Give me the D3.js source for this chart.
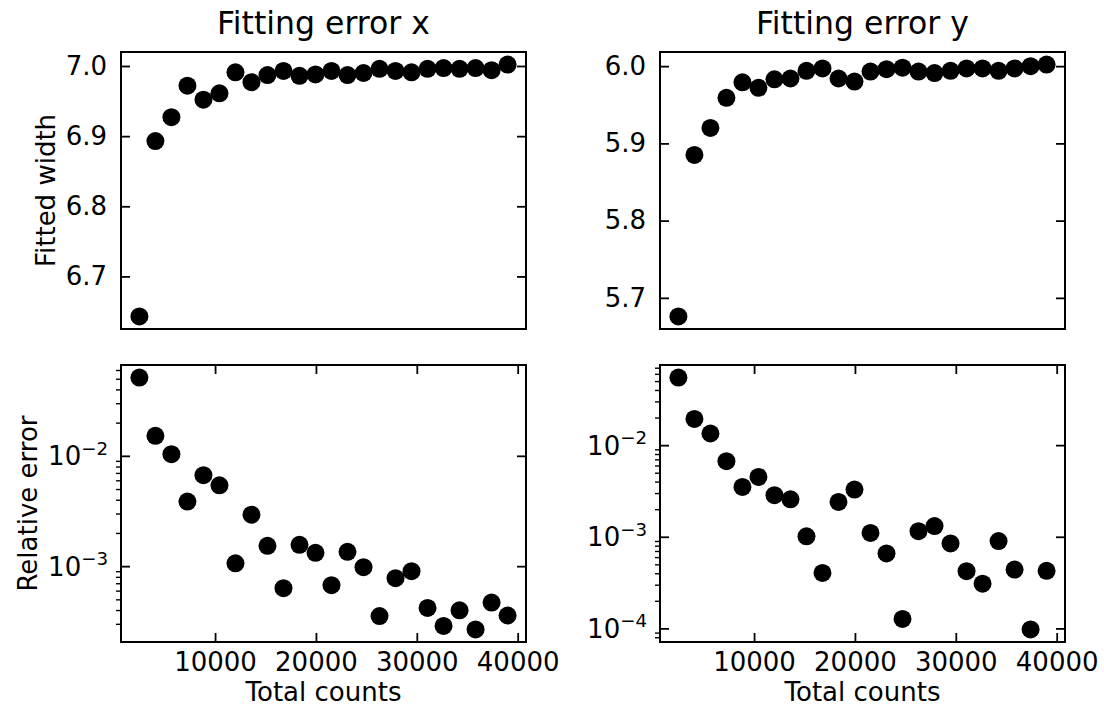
<!DOCTYPE html>
<html><head><meta charset="utf-8">
<script src="https://cdn.jsdelivr.net/npm/d3@7"></script>
<style>
body{margin:0;background:#fff}
svg{display:block}
text{font-family:"DejaVu Sans",sans-serif;fill:#000}
</style>
</head><body>
<svg id="chart" width="1104" height="708"></svg>
<script>
// ---- data ----
const totalCounts = [2500, 4087, 5674, 7261, 8848, 10435, 12022, 13609, 15196, 16783, 18370, 19957,
                     21543, 23130, 24717, 26304, 27891, 29478, 31065, 32652, 34239, 35826, 37413, 39000];
const fittedWidthX = [6.643, 6.893, 6.927, 6.972, 6.952, 6.961, 6.991, 6.977, 6.987, 6.993, 6.986, 6.988,
                      6.993, 6.987, 6.990, 6.996, 6.993, 6.991, 6.996, 6.997, 6.996, 6.997, 6.994, 7.002];
const fittedWidthY = [5.676, 5.885, 5.920, 5.959, 5.979, 5.972, 5.983, 5.984, 5.994, 5.997, 5.984, 5.980,
                      5.993, 5.996, 5.998, 5.993, 5.991, 5.994, 5.997, 5.997, 5.994, 5.997, 6.000, 6.002];
const relErrorX = [0.0512, 0.0152, 0.01035, 0.00385, 0.00667, 0.00541, 0.00106, 0.00293, 0.00153, 0.000631, 0.00156, 0.00132,
                   0.000672, 0.00135, 0.000979, 0.000353, 0.000778, 0.000901, 0.000418, 0.000287, 0.000398, 0.000267, 0.000467, 0.000357];
const relErrorY = [0.0546, 0.0193, 0.0134, 0.00668, 0.00350, 0.00450, 0.00284, 0.00256, 0.00101, 0.000403, 0.00240, 0.00327,
                   0.00110, 0.000657, 0.000127, 0.00115, 0.00131, 0.000845, 0.000421, 0.000308, 0.000897, 0.000438, 0.0000975, 0.000425];
const panelTitles = ["Fitting error x", "Fitting error y"];
const widthTicksX = [6.7, 6.8, 6.9, 7.0];
const widthTicksY = [5.7, 5.8, 5.9, 6.0];
const countTicks = [10000, 20000, 30000, 40000];
const xAxisLabel = "Total counts";
const yAxisLabels = ["Fitted width", "Relative error"];

// ---- layout ----
const svg = d3.select("#chart");
const colLeft = [121, 660], panelW = 405;
const rowTop = [52, 365], panelH = 277;
const FS = 26, TFS = 31.5;
const MAJ = 9, MIN = 5;

function padLin(ext){ const r = ext[1]-ext[0]; return [ext[0]-0.05*r, ext[1]+0.05*r]; }
function padLog(ext){ const a = Math.log10(ext[0]), b = Math.log10(ext[1]), r = b-a;
  return [Math.pow(10, a-0.05*r), Math.pow(10, b+0.05*r)]; }

const x = d3.scaleLinear().domain(padLin(d3.extent(totalCounts))).range([0, panelW]);

const panels = [
  {col:0,row:0, vals:fittedWidthX, log:false, ticks:widthTicksX, title:panelTitles[0], ylab:yAxisLabels[0]},
  {col:1,row:0, vals:fittedWidthY, log:false, ticks:widthTicksY, title:panelTitles[1]},
  {col:0,row:1, vals:relErrorX, log:true, ylab:yAxisLabels[1], xlab:xAxisLabel},
  {col:1,row:1, vals:relErrorY, log:true, xlab:xAxisLabel}
];

function styleAxis(g){
  g.select(".domain").remove();
  g.selectAll("line").attr("stroke","#000").attr("stroke-width",1.8);
  g.selectAll("text").attr("font-size",FS).attr("font-family","DejaVu Sans").attr("fill","#000");
}

panels.forEach(p=>{
  const g = svg.append("g").attr("transform",`translate(${colLeft[p.col]},${rowTop[p.row]})`);
  let y;
  if(p.log){
    y = d3.scaleLog().domain(padLog(d3.extent(p.vals))).range([panelH,0]);
  } else {
    y = d3.scaleLinear().domain(padLin(d3.extent(p.vals))).range([panelH,0]);
  }

  // points
  g.append("g").selectAll("circle").data(p.vals).join("circle")
    .attr("cx",(d,i)=>x(totalCounts[i])).attr("cy",d=>y(d)).attr("r",9).attr("fill","#000");

  // y axis
  if(p.log){
    const all = y.ticks();
    const majors = all.filter(v=>Math.abs(Math.log10(v)-Math.round(Math.log10(v)))<1e-9);
    const minors = all.filter(v=>!majors.includes(v));
    const gm = g.append("g").call(d3.axisLeft(y).tickValues(minors).tickSize(MIN).tickFormat(""));
    styleAxis(gm); gm.selectAll("line").attr("stroke-width",1.4);
    const gl = g.append("g").call(d3.axisLeft(y).tickValues(majors).tickSizeInner(-MAJ).tickSizeOuter(0).tickPadding(13).tickFormat(""));
    styleAxis(gl);
    gl.selectAll(".tick text").each(function(d){
      const e = Math.round(Math.log10(d));
      const t = d3.select(this).attr("dy",null).attr("y",9);
      t.append("tspan").text("10");
      t.append("tspan").attr("font-size",FS*0.7).attr("dy",-10.5).text("\u2212"+Math.abs(e));
    });
    const gr = g.append("g").attr("transform",`translate(${panelW},0)`)
      .call(d3.axisRight(y).tickValues(majors).tickSizeInner(-MAJ).tickSizeOuter(0).tickFormat(""));
    styleAxis(gr);
  } else {
    const gl = g.append("g").call(d3.axisLeft(y).tickValues(p.ticks).tickSizeInner(-MAJ).tickSizeOuter(0).tickPadding(14).tickFormat(d3.format(".1f")));
    styleAxis(gl);
    const gr = g.append("g").attr("transform",`translate(${panelW},0)`)
      .call(d3.axisRight(y).tickValues(p.ticks).tickSizeInner(-MAJ).tickSizeOuter(0).tickFormat(""));
    styleAxis(gr);
  }

  // x axis (bottom row only)
  if(p.row===1){
    const gb = g.append("g").attr("transform",`translate(0,${panelH})`)
      .call(d3.axisBottom(x).tickValues(countTicks).tickSizeInner(-MAJ).tickSizeOuter(0).tickPadding(11).tickFormat(d3.format("d")));
    styleAxis(gb);
    const gt = g.append("g")
      .call(d3.axisTop(x).tickValues(countTicks).tickSizeInner(-MAJ).tickSizeOuter(0).tickFormat(""));
    styleAxis(gt);
  }

  // frame
  g.append("rect").attr("x",0).attr("y",0).attr("width",panelW).attr("height",panelH)
    .attr("fill","none").attr("stroke","#000").attr("stroke-width",2);

  if(p.title){
    g.append("text").attr("x",panelW/2).attr("y",34-rowTop[p.row]).attr("text-anchor","middle")
      .attr("font-size",TFS).text(p.title);
  }
  if(p.xlab){
    g.append("text").attr("x",panelW/2).attr("y",701-rowTop[p.row]).attr("text-anchor","middle")
      .attr("font-size",FS).text(p.xlab);
  }
  if(p.ylab){
    const bx = (p.row===0 ? 55 : 37) - colLeft[p.col];
    g.append("text").attr("transform",`translate(${bx},${panelH/2}) rotate(-90)`)
      .attr("text-anchor","middle").attr("font-size",FS).text(p.ylab);
  }
});
</script>
</body></html>
